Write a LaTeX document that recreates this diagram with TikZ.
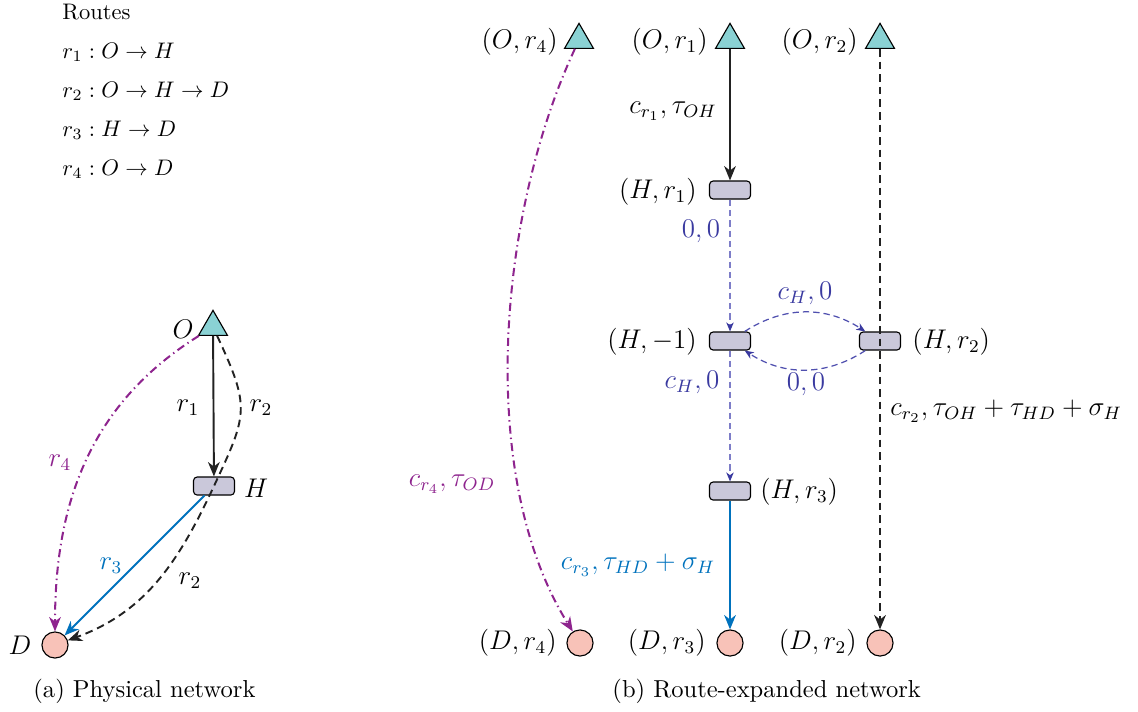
\documentclass[tikz,border=0pt]{standalone}
\usetikzlibrary{shapes.geometric,arrows.meta}
\definecolor{tealfill}{RGB}{138,210,212}
\definecolor{hubfill}{RGB}{202,200,218}
\definecolor{destfill}{RGB}{248,194,184}
\definecolor{rblue}{RGB}{0,114,189}
\definecolor{rpurple}{RGB}{142,36,142}
\definecolor{indA}{RGB}{58,58,160}
\definecolor{indM}{RGB}{80,80,175}
\definecolor{indL}{RGB}{125,125,200}
\definecolor{darkline}{RGB}{34,34,34}
\begin{document}
\begin{tikzpicture}[x=0.4444pt,y=0.4444pt,
  orig/.style={regular polygon,regular polygon sides=3,draw=black,fill=tealfill,minimum size=14.8pt,inner sep=0pt,line width=0.5pt},
  hub/.style={rectangle,rounded corners=1.6pt,draw=black,fill=hubfill,minimum width=18.2pt,minimum height=8pt,inner sep=0pt,line width=0.5pt},
  dest/.style={circle,draw=black,fill=destfill,minimum size=11.6pt,inner sep=0pt,line width=0.5pt},
  lbl/.style={font=\large,inner sep=0pt},
  txt/.style={inner sep=0pt,anchor=base west},
  bigtip/.style={-{Stealth[length=6.4pt,width=5.2pt,inset=2pt]}},
  blk/.style={draw=darkline,line width=0.85pt,bigtip},
  blkdash/.style={blk,dash pattern=on 3.4pt off 2.2pt},
  bl/.style={draw=rblue,line width=0.85pt,bigtip},
  pur/.style={draw=rpurple,line width=0.9pt,dash pattern=on 3.6pt off 1.8pt on 0.6pt off 1.8pt,bigtip},
  indv/.style={draw=indL,line width=0.55pt,dash pattern=on 2.8pt off 1.8pt,-{Stealth[length=4pt,width=3.3pt,inset=1.2pt,color=indA]}},
  inda/.style={draw=indM,line width=0.55pt,dash pattern=on 2.8pt off 1.8pt,-{Stealth[length=4pt,width=3.3pt,inset=1.2pt,color=indA]}},
]
\useasboundingbox (0,0) rectangle (1138,-711);

% ---------- route list ----------
\node[txt] (rt) at (62,-19) {Routes};
\node[txt] (rl1) at (62,-58) {$r_1 : O \rightarrow H$};
\node[txt] (rl2) at (62,-97) {$r_2 : O \rightarrow H \rightarrow D$};
\node[txt] (rl3) at (62,-136) {$r_3 : H \rightarrow D$};
\node[txt] (rl4) at (62,-175) {$r_4 : O \rightarrow D$};

% ---------- physical network ----------
\node[orig] (O) at (213,-327) {};
\node[hub] (H) at (214,-486) {};
\node[dest] (D) at (55,-645) {};
\node[lbl] (Ol) at (183,-329) {$O$};
\node[lbl] (Hl) at (256,-488) {$H$};
\node[lbl] (Dl) at (20,-645) {$D$};

\draw[blk] (O) -- (H);
\draw[blkdash] (O) to[out=-65,in=65,looseness=1.35] (H.center) to[out=-115,in=20] (D);
\draw[bl] (H) -- (D);
\draw[pur] (O) to[out=212,in=90] (D);

\node[lbl] (lr1) at (188,-408) {$r_1$};
\node[lbl] (lr2a) at (261,-408) {$r_2$};
\node[lbl,text=rpurple] (lr4) at (60,-463) {$r_4$};
\node[lbl,text=rblue] (lr3) at (111,-566) {$r_3$};
\node[lbl] (lr2b) at (190,-581) {$r_2$};

% ---------- route-expanded network ----------
\node[orig] (Or4) at (579,-40) {};
\node[orig] (Or1) at (730,-40) {};
\node[orig] (Or2) at (880,-40) {};
\node[hub] (Hr1) at (730,-190) {};
\node[hub] (Hm1) at (730,-341) {};
\node[hub] (Hr2) at (880,-341) {};
\node[hub] (Hr3) at (730,-491) {};
\node[dest] (Dr4) at (580,-643) {};
\node[dest] (Dr3) at (730,-643) {};
\node[dest] (Dr2) at (880,-643) {};

\node[lbl,anchor=east] (Or4l) at (558,-42) {$(O,r_4)$};
\node[lbl,anchor=east] (Or1l) at (708,-42) {$(O,r_1)$};
\node[lbl,anchor=east] (Or2l) at (858,-42) {$(O,r_2)$};
\node[lbl,anchor=east] (Hr1l) at (697,-192) {$(H,r_1)$};
\node[lbl,anchor=east] (Hm1l) at (697,-342) {$(H,-1)$};
\node[lbl,anchor=west] (Hr2l) at (912,-342) {$(H,r_2)$};
\node[lbl,anchor=west] (Hr3l) at (760,-492) {$(H,r_3)$};
\node[lbl,anchor=east] (Dr4l) at (557,-643) {$(D,r_4)$};
\node[lbl,anchor=east] (Dr3l) at (706,-643) {$(D,r_3)$};
\node[lbl,anchor=east] (Dr2l) at (857,-643) {$(D,r_2)$};

\draw[blk] (Or1) -- (Hr1);
\draw[indv] (Hr1) -- (Hm1);
\draw[inda] (Hm1) to[bend left=33] (Hr2);
\draw[inda] (Hr2) to[bend left=33] (Hm1);
\draw[indv] (Hm1) -- (Hr3);
\draw[bl] (Hr3) -- (Dr3);
\draw[blkdash] (Or2) -- (Dr2);
\draw[pur] (Or4) to[out=245,in=122,looseness=0.8] (Dr4);

\node[lbl] (e1) at (673,-111) {$c_{r_1},\tau_{OH}$};
\node[lbl,text=indA] (e2) at (701,-231) {$0,0$};
\node[lbl,text=indA] (e3) at (805,-293) {$c_H,0$};
\node[lbl,text=indA] (e4) at (806,-384) {$0,0$};
\node[lbl,text=indA] (e5) at (692,-382) {$c_H,0$};
\node[lbl,text=rblue] (e6) at (638,-565) {$c_{r_3},\tau_{HD}+\sigma_H$};
\node[lbl,text=rpurple] (e7) at (452,-484) {$c_{r_4},\tau_{OD}$};
\node[lbl,anchor=west] (e8) at (890,-411) {$c_{r_2},\tau_{OH}+\tau_{HD}+\sigma_H$};

% ---------- captions ----------
\node[txt,font=\fontsize{10.9}{13}\selectfont] (capa) at (33,-697) {(a) Physical network};
\node[txt,font=\fontsize{10.9}{13}\selectfont] (capb) at (612,-697) {(b) Route-expanded network};
\end{tikzpicture}
\end{document}
